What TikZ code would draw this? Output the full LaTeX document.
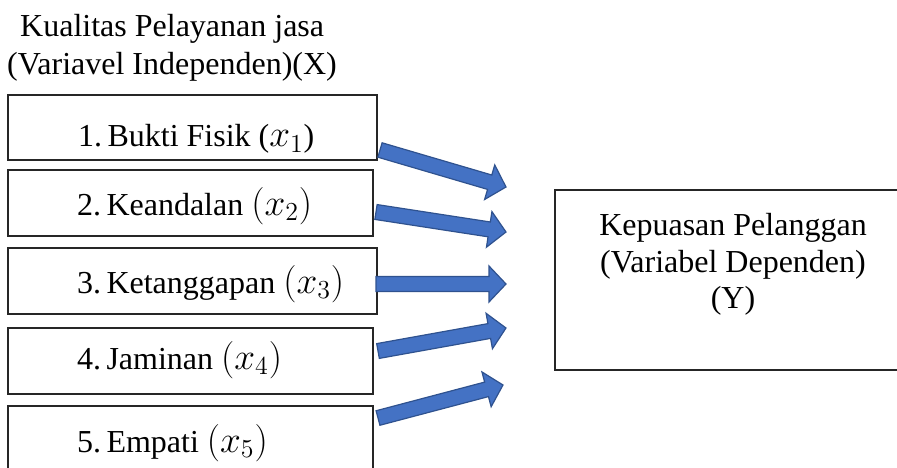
\documentclass[tikz,border=0pt]{standalone}
\usepackage{fontspec}
\setmainfont{Liberation Serif}
\usetikzlibrary{calc}
\definecolor{arrfill}{HTML}{4472C4}
\definecolor{arrline}{HTML}{2F528F}
\tikzset{
  boxline/.style={draw=black!85, line width=1.3pt},
  lbl/.style={anchor=base west, inner sep=0pt, font=\fontsize{32}{38}\selectfont},
  rlbl/.style={anchor=base, inner sep=0pt, font=\fontsize{32}{38}\selectfont},
  barrow/.style={fill=arrfill, draw=arrline, line width=1.2pt, line join=miter},
}
\newcommand\mx[1]{\scalebox{1.8}{\fontsize{20.74}{22}\selectfont$(x_{#1})$}}
\newcommand\mxx[1]{\scalebox{1.8}{\fontsize{20.74}{22}\selectfont$x_{#1}$}}
\newcommand\blockarrow[2]{%
  \path let \p1=($(#2)-(#1)$), \n1={atan2(\y1,\x1)}, \n2={veclen(\x1,\y1)} in
    \pgfextra{\xdef\bAang{\n1}\xdef\bAlen{\n2}};
  \begin{scope}[shift={(#1)}, rotate=\bAang, x=1pt, y=1pt]
    \draw[barrow] (0,-7.5) -- ({\bAlen-17},-7.5) -- ({\bAlen-17},-18) -- (\bAlen,0)
      -- ({\bAlen-17},18) -- ({\bAlen-17},7.5) -- (0,7.5) -- cycle;
  \end{scope}}
\begin{document}
\begin{tikzpicture}[x=1pt,y=-1pt]
\useasboundingbox (0,0) rectangle (897,468);
\clip (0,0) rectangle (897,468);
% title
\node[lbl] (t1) at (20,37) {Kualitas Pelayanan jasa};
\node[lbl] (t2) at (7,75) {(Variavel Independen)(X)};
% left boxes
\draw[boxline] (8,95) rectangle (377,160) node[pos=0,inner sep=0pt] (b1) {};
\draw[boxline] (8,170) rectangle (373,236) node[pos=0,inner sep=0pt] (b2) {};
\draw[boxline] (8,248) rectangle (377,314) node[pos=0,inner sep=0pt] (b3) {};
\draw[boxline] (8,328) rectangle (373,394) node[pos=0,inner sep=0pt] (b4) {};
\draw[boxline] (8,406) rectangle (373,480) node[pos=0,inner sep=0pt] (b5) {};
\node[lbl] (l1) at (78,147) {1.\,Bukti Fisik (\mxx{1})};
\node[lbl] (l2) at (77,215) {2.\,Keandalan \mx{2}};
\node[lbl] (l3) at (77,293) {3.\,Ketanggapan \mx{3}};
\node[lbl] (l4) at (77,369) {4.\,Jaminan \mx{4}};
\node[lbl] (l5) at (77,452) {5.\,Empati \mx{5}};
% right box
\draw[boxline] (555,190) rectangle (905,370) node[pos=0,inner sep=0pt] (rb) {};
\node[rlbl] (r1) at (733,235) {Kepuasan Pelanggan};
\node[rlbl] (r2) at (733,272) {(Variabel Dependen)};
\node[rlbl] (r3) at (733,308) {(Y)};
% arrow endpoints
\coordinate (a1s) at (380,150); \coordinate (a1e) at (506,187);
\coordinate (a2s) at (376,212); \coordinate (a2e) at (506,232);
\coordinate (a3s) at (376,284); \coordinate (a3e) at (506,284);
\coordinate (a4s) at (378,351); \coordinate (a4e) at (506,328);
\coordinate (a5s) at (378,418); \coordinate (a5e) at (503,385);
\blockarrow{a1s}{a1e}
\blockarrow{a2s}{a2e}
\blockarrow{a3s}{a3e}
\blockarrow{a4s}{a4e}
\blockarrow{a5s}{a5e}
\end{tikzpicture}
\end{document}
